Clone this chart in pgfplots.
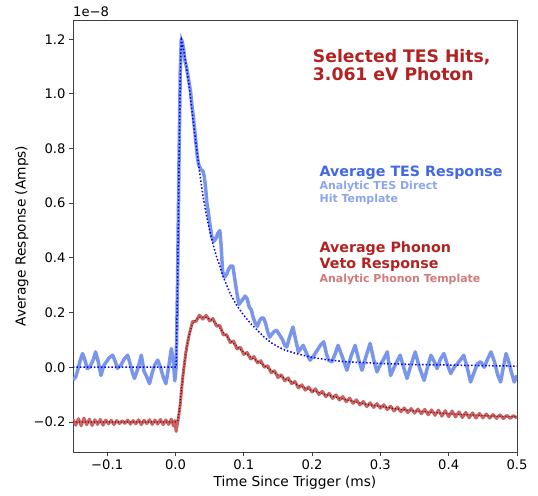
\documentclass[border=0pt]{standalone}
\usepackage{pgfplots}
\pgfplotsset{compat=1.18}
\usepackage{fontspec}
\setmainfont{DejaVu Sans}

\definecolor{tesdata}{RGB}{122,150,234}
\definecolor{tesfit}{RGB}{0,0,255}
\definecolor{phdata}{RGB}{201,100,100}
\definecolor{phfit}{RGB}{120,0,0}
\definecolor{fire}{RGB}{178,34,34}
\definecolor{royal}{RGB}{65,105,225}
\definecolor{royallight}{RGB}{141,165,237}
\definecolor{firelight}{RGB}{209,122,122}

\begin{document}
\begin{tikzpicture}
\begin{axis}[
  scale only axis, width=444bp, height=432bp,
  xmin=-0.15, xmax=0.5, ymin=-0.31, ymax=1.27,
  xtick={-0.1,0,0.1,0.2,0.3,0.4,0.5},
  xticklabels={−0.1,0.0,0.1,0.2,0.3,0.4,0.5},
  ytick={-0.2,0,0.2,0.4,0.6,0.8,1.0,1.2},
  yticklabels={−0.2,0.0,0.2,0.4,0.6,0.8,1.0,1.2},
  tick pos=left, tick align=outside, major tick length=4bp,
  tick style={black!75, line width=0.8bp},
  axis line style={line width=0.8bp, black!75},
  ticklabel style={font=\fontsize{13.2}{15}\selectfont},
  xlabel={Time Since Trigger (ms)}, ylabel={Average Response (Amps)},
  every axis x label/.style={at={(axis description cs:0.5,-0.07)},anchor=center,
    font=\fontsize{13.8}{16}\selectfont},
  every axis y label/.style={at={(axis description cs:-0.115,0.5)},rotate=90,anchor=center,
    font=\fontsize{13.8}{16}\selectfont},
]
% average TES response
\addplot[tesdata, line width=3.5bp, line join=round] coordinates {
(-0.150,-0.045) (-0.146,-0.035) (-0.143,-0.010) (-0.140,0.020) (-0.136,0.050)
(-0.133,0.030) (-0.129,-0.005) (-0.126,0.000) (-0.124,0.007) (-0.120,0.030)
(-0.117,0.056) (-0.113,0.020) (-0.109,-0.030) (-0.105,0.006) (-0.101,0.020)
(-0.097,0.035) (-0.092,0.044) (-0.088,0.020) (-0.085,-0.004) (-0.080,0.007)
(-0.075,0.030) (-0.070,0.044) (-0.066,0.010) (-0.063,-0.020) (-0.060,-0.041)
(-0.055,-0.005) (-0.050,0.044) (-0.046,-0.015) (-0.042,-0.035) (-0.038,-0.060)
(-0.034,-0.020) (-0.030,0.010) (-0.026,0.026) (-0.022,0.000) (-0.018,-0.035)
(-0.014,-0.060) (-0.010,0.000) (-0.006,0.068) (-0.003,0.020) (-0.001,-0.050)
(0.001,0.000) (0.003,0.300) (0.005,0.720) (0.007,1.080) (0.0085,1.200)
(0.010,1.190) (0.012,1.160) (0.014,1.120) (0.016,1.100) (0.018,1.070)
(0.020,1.040) (0.022,1.010) (0.024,0.960) (0.026,0.920) (0.028,0.870)
(0.030,0.820) (0.032,0.770) (0.034,0.740) (0.036,0.730) (0.038,0.720)
(0.040,0.720) (0.042,0.700) (0.044,0.660) (0.046,0.600) (0.048,0.570)
(0.050,0.530) (0.053,0.480) (0.056,0.460) (0.059,0.470) (0.062,0.490)
(0.065,0.500) (0.067,0.440) (0.069,0.350) (0.072,0.330) (0.075,0.340)
(0.078,0.360) (0.081,0.370) (0.084,0.370) (0.087,0.320) (0.090,0.270)
(0.093,0.230) (0.096,0.240) (0.099,0.250) (0.102,0.260) (0.105,0.250)
(0.108,0.220) (0.111,0.210) (0.114,0.180) (0.117,0.160) (0.120,0.150)
(0.123,0.170) (0.126,0.180) (0.129,0.180) (0.132,0.160) (0.135,0.130)
(0.138,0.110) (0.141,0.120) (0.144,0.130) (0.148,0.135) (0.152,0.120)
(0.157,0.100) (0.160,0.080) (0.163,0.074) (0.167,0.110) (0.172,0.147)
(0.176,0.100) (0.180,0.056) (0.184,0.070) (0.187,0.080) (0.192,0.050)
(0.197,0.026) (0.202,0.040) (0.207,0.060) (0.212,0.080) (0.217,0.093)
(0.221,0.050) (0.224,0.026) (0.229,0.020) (0.234,0.050) (0.238,0.080)
(0.244,0.040) (0.251,-0.011) (0.257,0.040) (0.263,0.080) (0.268,0.030)
(0.273,-0.011) (0.279,0.040) (0.285,0.087) (0.290,0.030) (0.295,-0.017)
(0.300,0.010) (0.305,0.030) (0.310,0.056) (0.315,-0.030) (0.322,0.010)
(0.329,0.044) (0.334,0.000) (0.339,-0.041) (0.345,0.010) (0.351,0.056)
(0.357,0.000) (0.364,-0.048) (0.369,0.000) (0.374,0.044) (0.379,0.020)
(0.383,-0.005) (0.388,0.030) (0.393,0.050) (0.398,0.010) (0.403,-0.023)
(0.408,0.000) (0.413,0.014) (0.418,0.030) (0.422,0.044) (0.427,0.000)
(0.432,-0.054) (0.437,-0.020) (0.442,0.013) (0.447,0.020) (0.452,0.000)
(0.457,0.030) (0.462,0.056) (0.467,0.020) (0.472,-0.030) (0.476,-0.054)
(0.480,0.000) (0.484,0.050) (0.488,0.020) (0.492,-0.020) (0.496,-0.054)
(0.500,-0.030)
};
% average phonon veto response
\addplot[phdata, line width=3bp, line join=round] coordinates {
(-0.150,-0.190) (-0.146,-0.212) (-0.142,-0.188) (-0.138,-0.214) (-0.134,-0.186)
(-0.130,-0.210) (-0.126,-0.190) (-0.122,-0.213) (-0.118,-0.192) (-0.114,-0.209)
(-0.110,-0.191) (-0.106,-0.212) (-0.102,-0.193) (-0.098,-0.207) (-0.094,-0.194)
(-0.090,-0.210) (-0.086,-0.195) (-0.082,-0.206) (-0.078,-0.196) (-0.074,-0.205)
(-0.070,-0.193) (-0.066,-0.208) (-0.062,-0.195) (-0.058,-0.207) (-0.054,-0.192)
(-0.050,-0.210) (-0.046,-0.194) (-0.042,-0.206) (-0.038,-0.192) (-0.034,-0.209)
(-0.030,-0.193) (-0.026,-0.208) (-0.022,-0.191) (-0.018,-0.210) (-0.014,-0.193)
(-0.010,-0.209) (-0.006,-0.190) (-0.003,-0.215) (-0.001,-0.195) (0.001,-0.235)
(0.003,-0.205) (0.005,-0.175) (0.007,-0.135) (0.009,-0.080) (0.011,-0.030)
(0.013,0.010) (0.015,0.050) (0.017,0.080) (0.020,0.118) (0.025,0.168)
(0.030,0.167) (0.035,0.191) (0.040,0.176) (0.045,0.190) (0.050,0.169)
(0.055,0.178) (0.060,0.150) (0.065,0.153) (0.070,0.118) (0.075,0.119)
(0.080,0.090) (0.085,0.096) (0.090,0.067) (0.095,0.073) (0.100,0.047)
(0.105,0.054) (0.110,0.030) (0.115,0.039) (0.120,0.016) (0.125,0.024)
(0.130,0.000) (0.135,0.006) (0.140,-0.020) (0.145,-0.013) (0.150,-0.038)
(0.155,-0.028) (0.160,-0.050) (0.165,-0.039) (0.170,-0.060) (0.175,-0.052)
(0.180,-0.076) (0.185,-0.064) (0.190,-0.084) (0.195,-0.072) (0.200,-0.091)
(0.205,-0.079) (0.210,-0.100) (0.215,-0.088) (0.220,-0.108) (0.225,-0.095)
(0.230,-0.114) (0.235,-0.101) (0.240,-0.120) (0.245,-0.107) (0.250,-0.126)
(0.255,-0.113) (0.260,-0.132) (0.265,-0.119) (0.270,-0.138) (0.275,-0.125)
(0.280,-0.144) (0.285,-0.130) (0.290,-0.147) (0.295,-0.133) (0.300,-0.150)
(0.305,-0.137) (0.310,-0.155) (0.315,-0.142) (0.320,-0.160) (0.325,-0.146)
(0.330,-0.163) (0.335,-0.149) (0.340,-0.166) (0.345,-0.151) (0.350,-0.168)
(0.355,-0.153) (0.360,-0.170) (0.365,-0.154) (0.370,-0.174) (0.375,-0.156)
(0.380,-0.176) (0.385,-0.157) (0.390,-0.179) (0.395,-0.159) (0.400,-0.181)
(0.405,-0.160) (0.410,-0.182) (0.415,-0.163) (0.420,-0.184) (0.425,-0.165)
(0.430,-0.185) (0.435,-0.167) (0.440,-0.186) (0.445,-0.169) (0.450,-0.185)
(0.455,-0.171) (0.460,-0.186) (0.465,-0.173) (0.470,-0.187) (0.475,-0.174)
(0.480,-0.188) (0.485,-0.176) (0.490,-0.187) (0.495,-0.177) (0.500,-0.186)
};
% analytic TES template
\addplot[tesfit, line width=1.5bp, dash pattern=on 1.5bp off 2bp] coordinates {
(-0.150,0) (0.000,0) (0.001,0.000) (0.003,0.300) (0.005,0.700) (0.007,1.050)
(0.0085,1.200) (0.012,1.160) (0.016,1.100) (0.020,1.030) (0.025,0.920)
(0.030,0.820) (0.035,0.720) (0.040,0.630) (0.045,0.560) (0.050,0.500)
(0.055,0.450) (0.060,0.405) (0.065,0.370) (0.070,0.330) (0.075,0.300)
(0.080,0.270) (0.090,0.225) (0.100,0.190) (0.110,0.160) (0.120,0.135)
(0.130,0.110) (0.140,0.090) (0.150,0.075) (0.160,0.063) (0.170,0.055)
(0.180,0.048) (0.200,0.036) (0.220,0.028) (0.250,0.020) (0.300,0.014)
(0.350,0.010) (0.400,0.008) (0.450,0.006) (0.500,0.004)
};
% analytic phonon template
\addplot[phfit, line width=1.2bp, dash pattern=on 1bp off 2bp] coordinates {
(-0.150,-0.200) (0.000,-0.200) (0.003,-0.198) (0.006,-0.150) (0.009,-0.075)
(0.012,-0.010) (0.015,0.050) (0.018,0.095) (0.021,0.128) (0.025,0.158)
(0.030,0.175) (0.035,0.182) (0.040,0.184) (0.045,0.182) (0.050,0.177)
(0.055,0.170) (0.060,0.159) (0.070,0.128) (0.080,0.099) (0.090,0.075)
(0.100,0.055) (0.110,0.038) (0.120,0.022) (0.130,0.006) (0.140,-0.011)
(0.150,-0.027) (0.160,-0.041) (0.170,-0.053) (0.180,-0.066) (0.190,-0.076)
(0.200,-0.085) (0.220,-0.100) (0.240,-0.113) (0.260,-0.125) (0.280,-0.136)
(0.300,-0.143) (0.320,-0.151) (0.340,-0.157) (0.360,-0.162) (0.380,-0.166)
(0.400,-0.170) (0.420,-0.173) (0.440,-0.175) (0.460,-0.178) (0.480,-0.180)
(0.500,-0.181)
};
\node[anchor=base west, inner sep=0, text=fire, font=\bfseries\fontsize{17.3}{20}\selectfont] at (axis cs:0.201,1.116) {Selected TES Hits,};
\node[anchor=base west, inner sep=0, text=fire, font=\bfseries\fontsize{17.3}{20}\selectfont] at (axis cs:0.201,1.049) {3.061 eV Photon};
\node[anchor=base west, inner sep=0, text=royal, font=\bfseries\fontsize{14.3}{17}\selectfont] at (axis cs:0.2107,0.699) {Average TES Response};
\node[anchor=base west, inner sep=0, text=royallight, font=\bfseries\fontsize{11}{13}\selectfont] at (axis cs:0.2107,0.650) {Analytic TES Direct};
\node[anchor=base west, inner sep=0, text=royallight, font=\bfseries\fontsize{11}{13}\selectfont] at (axis cs:0.2107,0.601) {Hit Template};
\node[anchor=base west, inner sep=0, text=fire, font=\bfseries\fontsize{14.3}{17}\selectfont] at (axis cs:0.2107,0.419) {Average Phonon};
\node[anchor=base west, inner sep=0, text=fire, font=\bfseries\fontsize{14.3}{17}\selectfont] at (axis cs:0.2107,0.361) {Veto Response};
\node[anchor=base west, inner sep=0, text=firelight, font=\bfseries\fontsize{11}{13}\selectfont] at (axis cs:0.2107,0.310) {Analytic Phonon Template};
\end{axis}
\node[anchor=base west, inner sep=0, font=\fontsize{13.2}{15}\selectfont] at ([yshift=3.3bp]current axis.north west) {1e−8};
\pgfresetboundingbox
\path[use as bounding box] ([shift={(-73bp,-44bp)}]current axis.south west) rectangle ([shift={(21bp,20bp)}]current axis.north east);
\end{tikzpicture}
\end{document}
